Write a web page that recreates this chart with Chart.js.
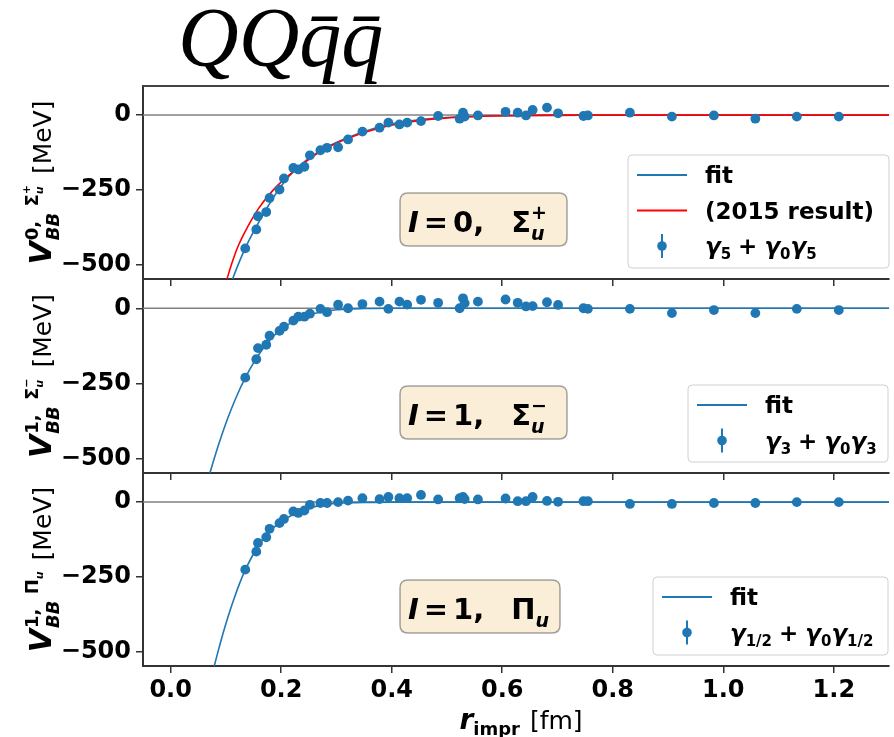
<!DOCTYPE html>
<html><head><meta charset="utf-8">
<script src="https://cdn.jsdelivr.net/npm/chart.js@4.4.1/dist/chart.umd.min.js"></script>
<style>
html,body{margin:0;padding:0;background:#fff;}
#wrap{position:relative;width:894px;height:737px;overflow:hidden;background:#fff;}
#wrap canvas{position:absolute;left:0;top:0;}
</style></head><body>
<div id="wrap">
<canvas id="c1" width="894" height="737"></canvas>
<canvas id="c2" width="894" height="737"></canvas>
<canvas id="c3" width="894" height="737"></canvas>
</div>
<script>
// ---------------- data ----------------
const rImpr = [0.135,0.155,0.158,0.173,0.179,0.197,0.205,0.222,0.231,0.242,0.252,0.271,0.283,0.303,0.321,0.347,0.378,0.394,0.414,0.428,0.453,0.484,0.523,0.529,0.532,0.556,0.606,0.628,0.643,0.655,0.681,0.701,0.747,0.755,0.831,0.907,0.983,1.058,1.133,1.209];
const V_I0_SigmaPlus  = [-444,-381,-337,-323,-276,-248,-211,-176,-181,-172,-134,-117,-109,-107,-81,-55,-42,-25,-31,-25,-20,-3,-12,8,-5,-1,11,8,-1,17,25,6,-3,-1,8,-5,-1,-12,-5,-5];
const V_I1_SigmaMinus = [-230,-169,-132,-121,-91,-75,-61,-41,-28,-28,-18,-2,-13,12,0,14,22,-2,22,12,28,18,0,33,17,22,29,18,6,7,20,11,0,-2,-2,-16,-6,-16,-2,-6];
const V_I1_Pi         = [-225,-165,-136,-117,-89,-70,-56,-31,-36,-28,-9,-3,-3,0,5,13,10,17,13,13,24,9,13,17,10,9,12,3,3,17,4,1,3,3,-6,-6,-3,-3,0,0];

const fitR_I0  = [0.112,0.120,0.130,0.140,0.150,0.160,0.175,0.200,0.229,0.265,0.312,0.372,0.431,0.491,0.565,0.654,0.750,1.300];
const fitV_I0  = [-546,-508,-464,-424,-388,-355,-307,-236,-176,-125,-81,-42,-20,-9,-3,-1,0,0];
const fitR_2015 = [0.102,0.110,0.122,0.140,0.158,0.181,0.205,0.229,0.265,0.312,0.372,0.431,0.491,0.565,0.654,0.750,1.300];
const fitV_2015 = [-546,-498,-437,-370,-314,-259,-214,-178,-128,-84,-46,-23,-11,-4,-1,0,0];
const fitR_I1S = [0.071,0.080,0.090,0.100,0.110,0.120,0.135,0.150,0.165,0.180,0.200,0.225,0.250,0.275,0.300,0.325,0.350,0.400,1.300];
const fitV_I1S = [-546,-491,-434,-381,-333,-289,-231,-181,-139,-104,-70,-41,-22,-12,-5,-2,-1,0,0];
const fitR_I1P = [0.079,0.085,0.095,0.105,0.115,0.125,0.135,0.150,0.165,0.180,0.200,0.225,0.250,0.275,0.300,0.325,0.350,0.400,1.300];
const fitV_I1P = [-546,-503,-436,-375,-320,-270,-226,-172,-128,-95,-66,-38,-20,-10,-4,-2,-1,0,0];

const xTickValues = [0.0,0.2,0.4,0.6,0.8,1.0,1.2];
const yTickValues = [0,-250,-500];
const X_MIN = -0.05, X_MAX = 1.30, Y_MIN = -546, Y_MAX = 97;

// ---------------- helpers ----------------
const F = 'DejaVu Sans';
const BLUE = '#1f77b4';
Chart.defaults.font.family = F;

const pts = (xs, ys) => xs.map((x, i) => ({x, y: ys[i]}));

function layoutRuns(ctx, runs){
  let x = 0, prevStart = 0, prevEnd = 0; const out = [];
  for (const r of runs){
    ctx.font = r.f;
    const w = ctx.measureText(r.t).width;
    const sx = r.back ? prevStart : x + (r.gap || 0);
    out.push({t:r.t, f:r.f, dy:r.dy || 0, x:sx});
    const end = sx + w;
    if (r.back){ x = Math.max(prevEnd, end); prevEnd = x; }
    else { x = end; prevEnd = end; }
    prevStart = sx;
  }
  return {items:out, width:x};
}
function drawRuns(ctx, runs, x, y, align){
  const L = layoutRuns(ctx, runs);
  const ox = align === 'center' ? x - L.width/2 : x;
  ctx.textAlign = 'left'; ctx.textBaseline = 'alphabetic';
  for (const it of L.items){ ctx.font = it.f; ctx.fillText(it.t, ox + it.x, y + it.dy); }
  return L.width;
}
function roundRect(ctx, x, y, w, h, r){
  ctx.beginPath();
  ctx.moveTo(x+r, y); ctx.lineTo(x+w-r, y); ctx.quadraticCurveTo(x+w, y, x+w, y+r);
  ctx.lineTo(x+w, y+h-r); ctx.quadraticCurveTo(x+w, y+h, x+w-r, y+h);
  ctx.lineTo(x+r, y+h); ctx.quadraticCurveTo(x, y+h, x, y+h-r);
  ctx.lineTo(x, y+r); ctx.quadraticCurveTo(x, y, x+r, y); ctx.closePath();
}

// ---------------- panel definitions ----------------
const panels = [
  { id:'c1', top:86, bottom:279, first:true, last:false,
    values:V_I0_SigmaPlus, pointLabel:['γ','5','γ','0','γ','5'],
    fits:[{label:'fit', r:fitR_I0, v:fitV_I0, color:BLUE}, {label:'(2015 result)', r:fitR_2015, v:fitV_2015, color:'#ff0000'}],
    yl:{n:'0,', sym:'Σ', sub:'u', sup:'+'}, box:{isospin:'0,', sym:'Σ', sub:'u', sup:'+', w:167},
    legend:{x:628, w:261, h:113} },
  { id:'c2', top:279, bottom:473, first:false, last:false,
    values:V_I1_SigmaMinus, pointLabel:['γ','3','γ','0','γ','3'],
    fits:[{label:'fit', r:fitR_I1S, v:fitV_I1S, color:BLUE}],
    yl:{n:'1,', sym:'Σ', sub:'u', sup:'−'}, box:{isospin:'1,', sym:'Σ', sub:'u', sup:'−', w:167},
    legend:{x:688, w:200, h:77} },
  { id:'c3', top:473, bottom:666, first:false, last:true,
    values:V_I1_Pi, pointLabel:['γ','1/2','γ','0','γ','1/2'],
    fits:[{label:'fit', r:fitR_I1P, v:fitV_I1P, color:BLUE}],
    yl:{n:'1,', sym:'Π', sub:'u', sup:''}, box:{isospin:'1,', sym:'Π', sub:'u', sup:'', w:160},
    legend:{x:653, w:235, h:78} }
];

function decoPlugin(p){
  return {
    id:'deco_'+p.id,
    beforeDatasetsDraw(chart){
      const ctx = chart.ctx, a = chart.chartArea, y0 = chart.scales.y.getPixelForValue(0);
      ctx.save();
      ctx.strokeStyle = '#808080'; ctx.lineWidth = 1.5;
      ctx.beginPath(); ctx.moveTo(a.left, y0); ctx.lineTo(a.right, y0); ctx.stroke();
      ctx.restore();
    },
    afterDraw(chart){
      const ctx = chart.ctx, a = chart.chartArea;
      ctx.save();
      ctx.fillStyle = '#000';
      if (p.first){
        ctx.strokeStyle = '#444'; ctx.lineWidth = 2;
        ctx.beginPath(); ctx.moveTo(a.left, a.top); ctx.lineTo(a.right, a.top); ctx.stroke();
        ctx.font = 'italic 84px "Liberation Serif"';
        ctx.textAlign = 'left'; ctx.textBaseline = 'alphabetic';
        ctx.fillText('QQq\u0304q\u0304', 178, 66);
      }
      // y-axis label (rotated)
      const cy = (a.top + a.bottom)/2;
      ctx.save();
      ctx.translate(41, cy); ctx.rotate(-Math.PI/2);
      const yl = p.yl;
      const ylRuns = [
        {t:'V', f:'bold italic 30px '+F},
        {t:'BB', f:'bold italic 18px '+F, dy:8, gap:1},
        {t:yl.n, f:'bold 18px '+F, dy:-13, back:true},
        {t:' '+yl.sym, f:'bold 18px '+F, dy:-13},
        {t:yl.sub, f:'bold italic 11px '+F, dy:-8},
      ];
      if (yl.sup) ylRuns.push({t:yl.sup, f:'bold 11px '+F, dy:-21, back:true});
      ylRuns.push({t:' [MeV]', f:'25px '+F, gap:3});
      drawRuns(ctx, ylRuns, 0, 10, 'center');
      ctx.restore();

      // annotation box
      const b = p.box, bx = 400, by = a.top + 107, bh = 53;
      ctx.save();
      roundRect(ctx, bx, by, b.w, bh, 8);
      ctx.fillStyle = 'rgba(245,222,179,0.5)'; ctx.fill();
      ctx.strokeStyle = 'rgba(0,0,0,0.35)'; ctx.lineWidth = 1.5; ctx.stroke();
      ctx.fillStyle = '#000';
      const boxRuns = [
        {t:'I', f:'bold italic 29px '+F},
        {t:'=', f:'bold 29px '+F, gap:5},
        {t:b.isospin, f:'bold 29px '+F, gap:5},
        {t:b.sym, f:'bold 29px '+F, gap:27},
        {t:b.sub, f:'bold italic 19px '+F, dy:8},
      ];
      if (b.sup) boxRuns.push({t:b.sup, f:'bold 19px '+F, dy:-13, back:true});
      drawRuns(ctx, boxRuns, bx + 8, by + 39, 'left');
      ctx.restore();

      // legend
      const L = p.legend, lx = L.x, ly = a.bottom - 11 - L.h;
      ctx.save();
      roundRect(ctx, lx, ly, L.w, L.h, 4);
      ctx.fillStyle = 'rgba(255,255,255,0.85)'; ctx.fill();
      ctx.strokeStyle = '#d0d0d0'; ctx.lineWidth = 1; ctx.stroke();
      const rowH = 35.5;
      let rowY = ly + 20;
      ctx.lineWidth = 2;
      for (const f of p.fits){
        ctx.strokeStyle = f.color;
        ctx.beginPath(); ctx.moveTo(lx + 9, rowY); ctx.lineTo(lx + 59, rowY); ctx.stroke();
        ctx.fillStyle = '#000';
        drawRuns(ctx, [{t:f.label, f:'bold 23px '+F}], lx + 77, rowY + 8, 'left');
        rowY += rowH;
      }
      ctx.strokeStyle = BLUE; ctx.fillStyle = BLUE; ctx.lineWidth = 2;
      ctx.beginPath(); ctx.moveTo(lx + 34, rowY - 12); ctx.lineTo(lx + 34, rowY + 12); ctx.stroke();
      ctx.beginPath(); ctx.arc(lx + 34, rowY, 4.8, 0, Math.PI*2); ctx.fill();
      ctx.fillStyle = '#000';
      const g = p.pointLabel;
      drawRuns(ctx, [
        {t:g[0], f:'bold italic 23px '+F},
        {t:g[1], f:'bold 15px '+F, dy:5},
        {t:'+', f:'bold 23px '+F, gap:7},
        {t:g[2], f:'bold italic 23px '+F, gap:7},
        {t:g[3], f:'bold 15px '+F, dy:5},
        {t:g[4], f:'bold italic 23px '+F},
        {t:g[5], f:'bold 15px '+F, dy:5},
      ], lx + 77, rowY + 8, 'left');
      ctx.restore();

      if (p.last){
        ctx.fillStyle = '#000';
        drawRuns(ctx, [
          {t:'r', f:'bold italic 28px '+F},
          {t:'impr', f:'bold 18px '+F, dy:6},
          {t:' [fm]', f:'25px '+F, gap:2},
        ], 521, 729, 'center');
      }
      ctx.restore();
    }
  };
}

panels.forEach(p => {
  const XH = p.last ? 737 - p.bottom : 10;
  const datasets = [
    { label:'data', data: pts(rImpr, p.values), backgroundColor:BLUE, borderWidth:0,
      pointRadius:4.9, pointHoverRadius:4.9, showLine:false, order:0 }
  ];
  p.fits.forEach((f, i) => datasets.push({
    label:f.label, data: pts(f.r, f.v), borderColor:f.color, backgroundColor:f.color,
    showLine:true, pointRadius:0, borderWidth:1.6, cubicInterpolationMode:'monotone', order: 2 - i
  }));
  new Chart(document.getElementById(p.id), {
    type:'scatter',
    data:{datasets},
    options:{
      responsive:false, animation:false, events:[],
      layout:{padding:{left:0, right:-6, top:p.top, bottom:737 - p.bottom - XH}},
      plugins:{legend:{display:false}, tooltip:{enabled:false}, title:{display:false}},
      scales:{
        x:{type:'linear', min:X_MIN, max:X_MAX,
           afterFit(s){ s.height = XH; },
           afterBuildTicks(s){ s.ticks = xTickValues.map(v => ({value:v})); },
           ticks:{display:p.last, color:'#000', padding:3, maxRotation:0, autoSkip:false,
                  font:{family:F, size:24, weight:'bold'}, callback:v => Number(v).toFixed(1)},
           grid:{drawOnChartArea:false, drawTicks:true, tickLength:7, color:'#333', lineWidth:1.5},
           border:{display:true, color:'#333', width:2}},
        y:{type:'linear', min:Y_MIN, max:Y_MAX,
           afterFit(s){ s.width = 143; },
           afterBuildTicks(s){ s.ticks = yTickValues.map(v => ({value:v})); },
           ticks:{color:'#000', padding:5, autoSkip:false,
                  font:{family:F, size:24, weight:'bold'},
                  callback:v => v < 0 ? '\u2212' + Math.abs(v) : String(v)},
           grid:{drawOnChartArea:false, drawTicks:true, tickLength:7, color:'#333', lineWidth:1.5},
           border:{display:true, color:'#333', width:2}}
      }
    },
    plugins:[decoPlugin(p)]
  });
});
</script>
</body></html>
